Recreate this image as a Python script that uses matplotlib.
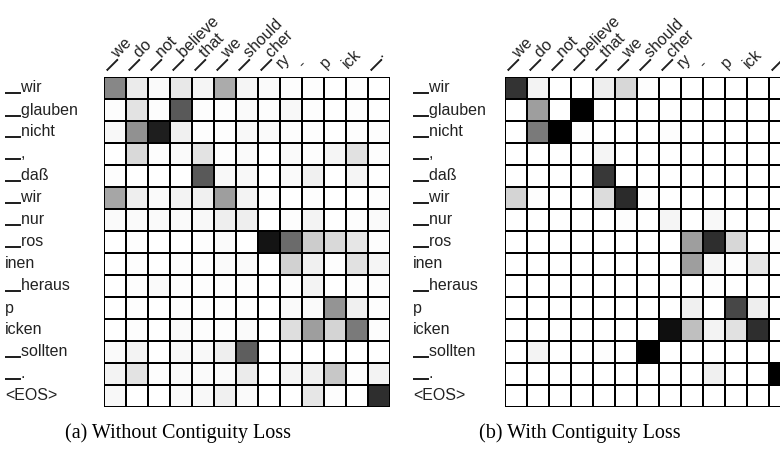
import numpy as np
import matplotlib
matplotlib.use("Agg")
import matplotlib.pyplot as plt
from matplotlib.transforms import blended_transform_factory

src_tokens = ["\u2581wir", "\u2581glauben", "\u2581nicht", "\u2581,", "\u2581daß", "\u2581wir", "\u2581nur",
              "\u2581ros", "inen", "\u2581heraus", "p", "icken", "\u2581sollten", "\u2581.", "<EOS>"]
tgt_tokens = ["\u2581we", "\u2581do", "\u2581not", "\u2581believe", "\u2581that", "\u2581we", "\u2581should",
              "\u2581cher", "ry", "-", "p", "ick", "\u2581."]

# attention weights, rows = source tokens, cols = target tokens
attn_without = [
    [0.47, 0.08, 0.02, 0.09, 0.04, 0.33, 0.04, 0.02, 0.01, 0.01, 0.00, 0.01, 0.00],
    [0.01, 0.11, 0.01, 0.65, 0.01, 0.01, 0.02, 0.01, 0.03, 0.01, 0.00, 0.01, 0.00],
    [0.03, 0.43, 0.88, 0.06, 0.01, 0.01, 0.03, 0.02, 0.01, 0.01, 0.00, 0.01, 0.01],
    [0.00, 0.15, 0.01, 0.02, 0.11, 0.01, 0.02, 0.00, 0.02, 0.01, 0.04, 0.12, 0.01],
    [0.01, 0.00, 0.00, 0.00, 0.65, 0.03, 0.03, 0.00, 0.02, 0.06, 0.00, 0.04, 0.00],
    [0.35, 0.07, 0.02, 0.05, 0.06, 0.38, 0.05, 0.01, 0.00, 0.01, 0.00, 0.00, 0.01],
    [0.02, 0.02, 0.02, 0.02, 0.03, 0.07, 0.07, 0.00, 0.01, 0.05, 0.00, 0.01, 0.02],
    [0.00, 0.01, 0.00, 0.00, 0.01, 0.02, 0.00, 0.92, 0.58, 0.20, 0.15, 0.10, 0.01],
    [0.00, 0.01, 0.00, 0.01, 0.01, 0.02, 0.02, 0.00, 0.18, 0.06, 0.01, 0.12, 0.04],
    [0.00, 0.01, 0.02, 0.01, 0.01, 0.01, 0.01, 0.00, 0.01, 0.05, 0.00, 0.01, 0.01],
    [0.00, 0.01, 0.00, 0.01, 0.01, 0.01, 0.01, 0.00, 0.02, 0.02, 0.42, 0.06, 0.01],
    [0.00, 0.01, 0.00, 0.02, 0.01, 0.01, 0.02, 0.00, 0.13, 0.38, 0.17, 0.52, 0.01],
    [0.02, 0.05, 0.00, 0.03, 0.03, 0.07, 0.63, 0.00, 0.00, 0.00, 0.00, 0.00, 0.00],
    [0.05, 0.11, 0.01, 0.02, 0.02, 0.02, 0.08, 0.00, 0.04, 0.06, 0.22, 0.01, 0.05],
    [0.03, 0.00, 0.00, 0.02, 0.03, 0.06, 0.02, 0.00, 0.00, 0.10, 0.01, 0.00, 0.82],
]

attn_with = [
    [0.80, 0.05, 0.00, 0.00, 0.07, 0.16, 0.01, 0.00, 0.00, 0.00, 0.00, 0.00, 0.00],
    [0.00, 0.38, 0.00, 1.00, 0.00, 0.00, 0.00, 0.00, 0.00, 0.00, 0.00, 0.00, 0.00],
    [0.00, 0.52, 1.00, 0.01, 0.00, 0.00, 0.00, 0.01, 0.00, 0.00, 0.00, 0.00, 0.00],
    [0.00, 0.00, 0.00, 0.00, 0.04, 0.00, 0.00, 0.00, 0.00, 0.00, 0.00, 0.00, 0.00],
    [0.00, 0.00, 0.00, 0.00, 0.78, 0.00, 0.00, 0.00, 0.00, 0.00, 0.00, 0.00, 0.00],
    [0.17, 0.01, 0.00, 0.00, 0.14, 0.83, 0.01, 0.00, 0.00, 0.00, 0.00, 0.00, 0.00],
    [0.00, 0.00, 0.00, 0.00, 0.00, 0.01, 0.00, 0.04, 0.00, 0.03, 0.00, 0.00, 0.00],
    [0.00, 0.00, 0.00, 0.00, 0.00, 0.00, 0.00, 0.00, 0.38, 0.82, 0.16, 0.00, 0.01],
    [0.00, 0.00, 0.00, 0.00, 0.00, 0.00, 0.00, 0.00, 0.38, 0.04, 0.01, 0.10, 0.00],
    [0.00, 0.00, 0.00, 0.00, 0.00, 0.00, 0.00, 0.00, 0.00, 0.01, 0.00, 0.00, 0.00],
    [0.00, 0.00, 0.00, 0.00, 0.00, 0.00, 0.00, 0.00, 0.06, 0.00, 0.72, 0.07, 0.00],
    [0.00, 0.00, 0.00, 0.00, 0.00, 0.00, 0.00, 0.94, 0.25, 0.05, 0.12, 0.82, 0.00],
    [0.00, 0.05, 0.00, 0.00, 0.01, 0.00, 1.00, 0.00, 0.00, 0.00, 0.00, 0.00, 0.00],
    [0.00, 0.00, 0.00, 0.00, 0.00, 0.00, 0.00, 0.00, 0.00, 0.06, 0.00, 0.00, 1.00],
    [0.00, 0.00, 0.00, 0.00, 0.00, 0.00, 0.00, 0.00, 0.00, 0.00, 0.00, 0.00, 0.00],
]

captions = ["(a) Without Contiguity Loss", "(b) With Contiguity Loss"]

# the CJK font gives a full-width "▁", closer to the original
sans = ["Liberation Sans", "Noto Sans CJK SC", "DejaVu Sans"]
W, H = 780, 458
fig = plt.figure(figsize=(W / 100, H / 100), dpi=100)


def draw_panel(left_px, label_px, data, caption, cap_x):
    ax = fig.add_axes([left_px / W, (H - 407) / H, 286 / W, 330 / H])
    arr = np.array(data)
    ax.pcolormesh(arr, cmap="gray_r", vmin=0, vmax=1,
                  edgecolors="black", linewidth=1.2)
    ax.set_xlim(0, arr.shape[1])
    ax.set_ylim(arr.shape[0], 0)
    ax.set_xticks([])
    ax.set_yticks([])
    for s in ax.spines.values():
        s.set_visible(False)

    trans = blended_transform_factory(fig.transFigure, ax.transData)
    for i, tok in enumerate(src_tokens):
        ax.text(label_px / W, i + 0.5, tok, transform=trans, ha="left", va="center",
                fontsize=11.5, family=sans, color="#222222")
    for j, tok in enumerate(tgt_tokens):
        ax.text(j + 0.1, -0.35, tok, rotation=45, rotation_mode="anchor",
                ha="left", va="baseline", fontsize=11.5, family=sans,
                color="#222222", clip_on=False)

    fig.text(cap_x / W, 1 - 433 / H, caption, ha="center", va="center",
             fontsize=14.5, family=["Liberation Serif", "DejaVu Serif"])


draw_panel(104, 5, attn_without, captions[0], 178)
draw_panel(505, 413, attn_with, captions[1], 580)

fig.savefig("out.png", dpi=100)
